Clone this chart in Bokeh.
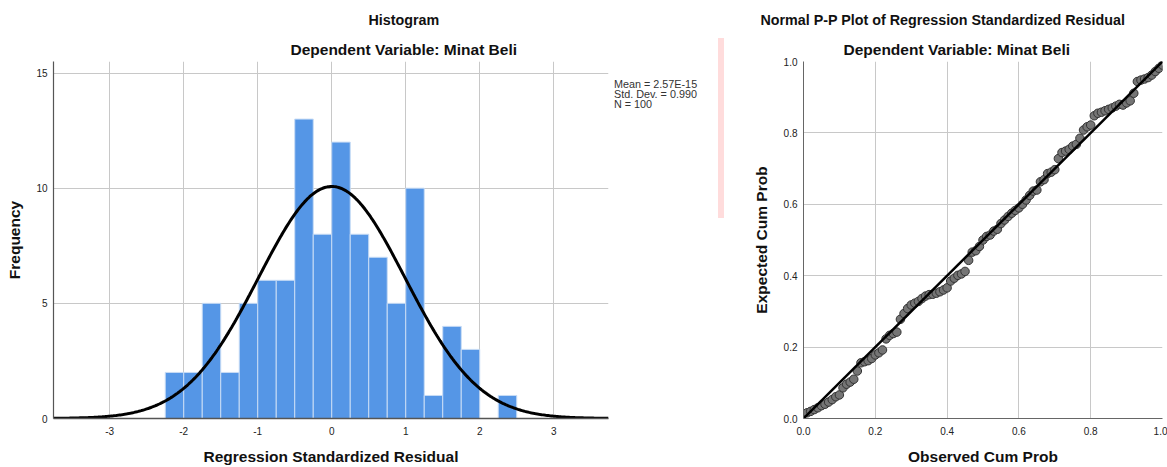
import numpy as np
from bokeh.plotting import figure
from bokeh.models import FixedTicker, Div, Range1d, Title, CustomJSTickFormatter
from bokeh.layouts import row
from bokeh.embed import file_html
from bokeh.resources import INLINE

# ---------------- data ----------------
bin_edges = [-2.25, -2.0, -1.75, -1.5, -1.25, -1.0, -0.75, -0.5, -0.25, 0.0,
             0.25, 0.5, 0.75, 1.0, 1.25, 1.5, 1.75, 2.0, 2.25, 2.5]
frequencies = [2, 2, 5, 2, 5, 6, 6, 13, 8, 12, 8, 7, 5, 10, 1, 4, 3, 0, 1]
resid_mean = 2.57e-15
resid_sd = 0.990
n_obs = 100
hist_xticks = [-3, -2, -1, 0, 1, 2, 3]
hist_xtick_labels = ["-3", "-2", "-1", "0", "1", "2", "3"]
hist_yticks = [0, 5, 10, 15]
hist_ytick_labels = ["0", "5", "10", "15"]
legend_lines = ["Mean = 2.57E-15", "Std. Dev. = 0.990", "N = 100"]

observed_cum_prob = [
    0.01, 0.02, 0.03, 0.04, 0.05, 0.06, 0.07, 0.08, 0.09, 0.10,
    0.11, 0.12, 0.13, 0.14, 0.15, 0.16, 0.17, 0.18, 0.19, 0.20,
    0.21, 0.22, 0.23, 0.24, 0.25, 0.26, 0.27, 0.28, 0.29, 0.30,
    0.31, 0.32, 0.33, 0.34, 0.35, 0.36, 0.37, 0.38, 0.39, 0.40,
    0.41, 0.42, 0.43, 0.44, 0.45, 0.46, 0.47, 0.48, 0.49, 0.50,
    0.51, 0.52, 0.53, 0.54, 0.55, 0.56, 0.57, 0.58, 0.59, 0.60,
    0.61, 0.62, 0.63, 0.64, 0.65, 0.66, 0.67, 0.68, 0.69, 0.70,
    0.71, 0.72, 0.73, 0.74, 0.75, 0.76, 0.77, 0.78, 0.79, 0.80,
    0.81, 0.82, 0.83, 0.84, 0.85, 0.86, 0.87, 0.88, 0.89, 0.90,
    0.91, 0.92, 0.93, 0.94, 0.95, 0.96, 0.97, 0.98, 0.99, 1.00]
expected_cum_prob = [
    0.016, 0.020, 0.025, 0.030, 0.036, 0.040, 0.046, 0.053, 0.061, 0.066,
    0.086, 0.096, 0.102, 0.110, 0.133, 0.156, 0.159, 0.162, 0.168, 0.178,
    0.184, 0.192, 0.223, 0.233, 0.238, 0.242, 0.278, 0.294, 0.308, 0.318,
    0.323, 0.328, 0.336, 0.343, 0.347, 0.348, 0.351, 0.355, 0.360, 0.366,
    0.385, 0.393, 0.401, 0.405, 0.412, 0.443, 0.466, 0.470, 0.482, 0.500,
    0.510, 0.514, 0.525, 0.530, 0.546, 0.556, 0.566, 0.575, 0.583, 0.590,
    0.600, 0.612, 0.625, 0.637, 0.640, 0.663, 0.669, 0.686, 0.690, 0.697,
    0.728, 0.745, 0.749, 0.754, 0.763, 0.768, 0.785, 0.808, 0.817, 0.822,
    0.848, 0.855, 0.858, 0.862, 0.866, 0.870, 0.875, 0.880, 0.878, 0.884,
    0.890, 0.911, 0.944, 0.948, 0.951, 0.955, 0.962, 0.972, 0.981, 0.990]
ref_line = [0.0, 1.0]
pp_ticks = [0, 0.2, 0.4, 0.6, 0.8, 1]
pp_tick_labels = ["0.0", "0.2", "0.4", "0.6", "0.8", "1.0"]

FONT = "Liberation Sans"
GRID = "#c8c8c8"

def label_formatter(tick_values, tick_texts):
    return CustomJSTickFormatter(args=dict(tv=tick_values, tl=tick_texts), code="""
        for (let i = 0; i < tv.length; i++) {
            if (Math.abs(tv[i] - tick) < 1e-9) { return tl[i]; }
        }
        return String(tick);
    """)

def style_axes(p, axis_color):
    for ax in (p.xaxis, p.yaxis):
        ax.axis_line_color = axis_color
        ax.major_tick_in = 0
        ax.major_tick_out = 0
        ax.minor_tick_in = 0
        ax.minor_tick_out = 0
        ax.major_label_text_font = FONT
        ax.major_label_text_font_size = "10px"
        ax.major_label_text_color = "#222222"
        ax.axis_label_text_font = FONT
        ax.axis_label_text_font_size = "15.5px"
        ax.axis_label_text_font_style = "bold"
        ax.axis_label_text_color = "#111111"
    p.xgrid.grid_line_color = GRID
    p.ygrid.grid_line_color = GRID
    p.outline_line_color = None

def add_titles(p, main, main_offset, sub, sub_offset):
    p.add_layout(Title(text=sub, align="left", offset=sub_offset, standoff=7,
                       text_font=FONT, text_font_size="15.5px", text_font_style="bold",
                       text_color="#111111"), "above")
    p.add_layout(Title(text=main, align="left", offset=main_offset, standoff=15,
                       text_font=FONT, text_font_size="14.3px", text_font_style="bold",
                       text_color="#111111"), "above")

# ---------------- histogram ----------------
p1 = figure(width=613, height=467, x_range=Range1d(-3.76, 3.74), y_range=Range1d(0, 15.5),
            output_backend="svg", toolbar_location=None,
            min_border_left=53, min_border_right=5, min_border_top=58, min_border_bottom=49)
p1.quad(left=bin_edges[:-1], right=bin_edges[1:], bottom=0, top=frequencies,
        fill_color="#5596e6", line_color="#c8dcf5", line_width=1)
xs = np.linspace(-3.76, 3.74, 400)
bw = bin_edges[1] - bin_edges[0]
ys = n_obs * bw * np.exp(-0.5 * ((xs - resid_mean) / resid_sd) ** 2) / (resid_sd * np.sqrt(2 * np.pi))
p1.line(xs, ys, line_color="black", line_width=3)
style_axes(p1, "#555555")
p1.xaxis.axis_line_width = 1.5
p1.yaxis.axis_line_width = 1.2
p1.xaxis.ticker = FixedTicker(ticks=hist_xticks)
p1.yaxis.ticker = FixedTicker(ticks=hist_yticks)
p1.xaxis.formatter = label_formatter(hist_xticks, hist_xtick_labels)
p1.yaxis.formatter = label_formatter(hist_yticks, hist_ytick_labels)
p1.xaxis.axis_label = "Regression Standardized Residual"
p1.yaxis.axis_label = "Frequency"
p1.xaxis.major_label_standoff = 8
p1.yaxis.major_label_standoff = 6
p1.xaxis.axis_label_standoff = 10
p1.yaxis.axis_label_standoff = 10
add_titles(p1, "Histogram", 315, "Dependent Variable: Minat Beli", 237)

legend_div = Div(text="<br>".join(legend_lines), width=105, height=40, margin=(79, 0, 0, 0),
                 styles={"font-family": FONT, "font-size": "10.8px", "line-height": "10px",
                         "color": "#333333", "padding-left": "1px", "white-space": "nowrap"})
pink = Div(text="", width=6, height=180, margin=(38, 0, 0, 0),
           styles={"background-color": "#ffdcdc"})

# ---------------- P-P plot ----------------
p2 = figure(width=443, height=467, x_range=Range1d(0, 1), y_range=Range1d(0, 1),
            output_backend="svg", toolbar_location=None,
            min_border_left=79, min_border_right=5, min_border_top=61, min_border_bottom=49)
p2.scatter(observed_cum_prob, expected_cum_prob, size=8.5, fill_color="#757575",
           line_color="#333333", line_width=1)
p2.line(ref_line, ref_line, line_color="black", line_width=2.5)
style_axes(p2, "#666666")
p2.xaxis.ticker = FixedTicker(ticks=pp_ticks)
p2.yaxis.ticker = FixedTicker(ticks=pp_ticks)
p2.xaxis.formatter = label_formatter(pp_ticks, pp_tick_labels)
p2.yaxis.formatter = label_formatter(pp_ticks, pp_tick_labels)
p2.yaxis.major_label_text_baseline = "alphabetic"
p2.xaxis.axis_label = "Observed Cum Prob"
p2.yaxis.axis_label = "Expected Cum Prob"
p2.xaxis.major_label_standoff = 8
p2.yaxis.major_label_standoff = 6
p2.xaxis.axis_label_standoff = 10
p2.yaxis.axis_label_standoff = 11
add_titles(p2, "Normal P-P Plot of Regression Standardized Residual", -43,
           "Dependent Variable: Minat Beli", 40)

layout = row(p1, legend_div, pink, p2)
open("out.html", "w").write(file_html(layout, INLINE))
